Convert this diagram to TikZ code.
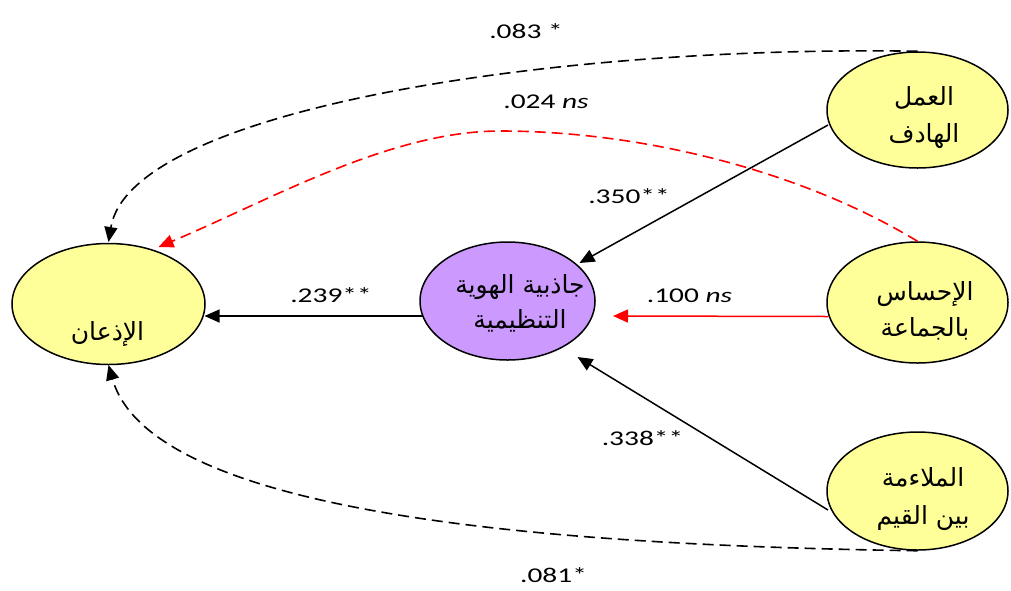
\documentclass[tikz,border=0pt]{standalone}
\usepackage{fontspec}
\usepackage{graphicx}
\setmainfont{Carlito}
\newfontfamily\arabicfont[Script=Arabic]{DejaVu Sans}
\TeXXeTstate=1
\usetikzlibrary{shapes.geometric,arrows.meta}
\definecolor{ylw}{HTML}{FFFF99}
\definecolor{prpl}{HTML}{CC99FF}
\definecolor{rd}{HTML}{FF0000}
\newcommand{\numtxt}[1]{\scalebox{1.4}[1]{#1}}
\begin{document}
\begin{tikzpicture}[x=1pt,y=-1pt,
 ell/.style={ellipse,draw=black,line width=1.5pt,inner sep=0pt},
 atext/.style={font=\arabicfont\fontsize{25}{30}\selectfont,inner sep=0pt,anchor=base},
 num/.style={font=\fontsize{21}{24}\selectfont,inner sep=0pt,anchor=base},
 arr/.style={-{Triangle[length=15pt,width=13pt]},line width=1.5pt},
 dsh/.style={arr,line width=1.6pt,dash pattern=on 11pt off 6pt}]
\useasboundingbox (0,0) rectangle (1011,590);
\fill[white] (0,0) rectangle (1011,590);
% ellipses
\node[ell,fill=ylw,minimum width=193pt,minimum height=121pt] (adh) at (108.5,304) {};
\node[ell,fill=prpl,minimum width=175pt,minimum height=118pt] (prp) at (507.5,301) {};
\node[ell,fill=ylw,minimum width=181pt,minimum height=116pt] (work) at (917.5,110) {};
\node[ell,fill=ylw,minimum width=181pt,minimum height=121pt] (comm) at (917.5,302.5) {};
\node[ell,fill=ylw,minimum width=181pt,minimum height=118pt] (fit) at (917.5,491) {};
% texts
\node[atext] (tadh) at (107.5,340) {\beginR الإذعان\endR};
\node[atext] (tprp1) at (520,293) {\beginR جاذبية الهوية\endR};
\node[atext] (tprp2) at (520,328) {\beginR التنظيمية\endR};
\node[atext] (twork1) at (924,105) {\beginR العمل\endR};
\node[atext] (twork2) at (924,142) {\beginR الهادف\endR};
\node[atext] (tcomm1) at (925,300) {\beginR الإحساس\endR};
\node[atext] (tcomm2) at (925,336) {\beginR بالجماعة\endR};
\node[atext] (tfit1) at (923,486) {\beginR الملاءمة\endR};
\node[atext] (tfit2) at (923,524) {\beginR بين القيم\endR};
% connectors
\draw[arr] ([shift={(-85,15)}]prp.center) -- ([shift={(96,12)}]adh.center);
\draw[arr,draw=rd,-{Triangle[length=15pt,width=13pt,fill=rd]}] ([shift={(-89,14)}]comm.center) -- ([shift={(105.5,15)}]prp.center);
\draw[arr] ([shift={(-89.5,15)}]work.center) -- ([shift={(72,-38)}]prp.center);
\draw[arr] ([shift={(-89.5,19)}]fit.center) -- ([shift={(70,56)}]prp.center);
\draw[dsh] (work.north) .. controls (550,45) and (130,110) .. ([shift={(0,-62)}]adh.center);
\coordinate (rpeak) at (500,131);
\draw[dsh,draw=rd,-{Triangle[length=15pt,width=13pt,fill=rd]}] (comm.north) .. controls (800,170) and (640,131) .. (rpeak) .. controls (390,131) and (270,200) .. ([shift={(50,-57)}]adh.center);
\draw[dsh] (fit.south) .. controls (520,545) and (150,510) .. ([shift={(0,61)}]adh.center);
% labels
\node[num] (l1) at (526,38) {\numtxt{.083 *}};
\node[num] (l2) at (546,108) {\numtxt{.024 \textit{ns}}};
\node[num] (l3) at (629,203) {\numtxt{.350**}};
\node[num] (l4) at (331,302) {\numtxt{.239**}};
\node[num] (l5) at (689.5,302) {\numtxt{.100 \textit{ns}}};
\node[num] (l6) at (642.5,445) {\numtxt{.338**}};
\node[num] (l7) at (553.5,582) {\numtxt{.081*}};
\end{tikzpicture}
\end{document}
